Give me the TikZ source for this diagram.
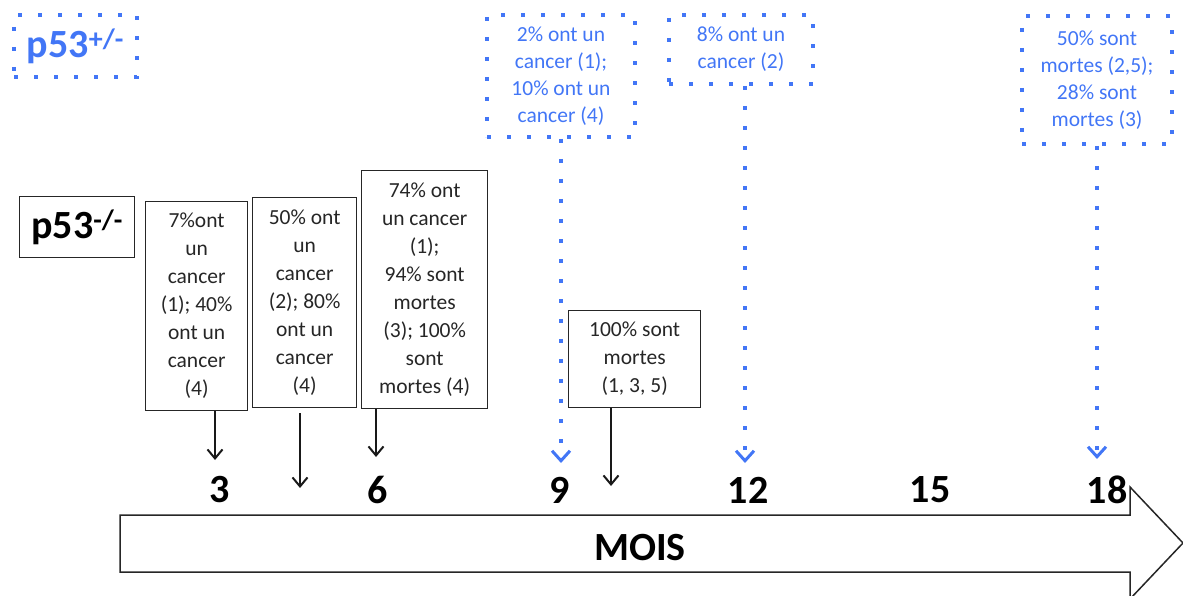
\documentclass[tikz,border=0pt]{standalone}
\usepackage{fontspec}
\setmainfont{Carlito}
\usetikzlibrary{arrows.meta}
\definecolor{pblue}{RGB}{66,118,246}
\begin{document}
\begin{tikzpicture}[x=1pt,y=-1pt,
  box/.style={draw=black!85, line width=1.3pt, align=center, inner sep=0pt, anchor=north west, font=\fontsize{21.5}{28}\selectfont, text=black!85},
  bbox/.style={draw=pblue, line width=4pt, dash pattern=on 4pt off 16pt, align=center, inner sep=0pt, anchor=north west, font=\fontsize{21.5}{27}\selectfont, text=pblue},
  blk/.style={line width=2pt, black!90, -{Straight Barb[length=9pt,width=15pt]}},
  bluarr/.style={pblue, line width=4pt, dash pattern=on 4pt off 16pt, -{Straight Barb[length=10pt,width=18pt,line width=3pt]}},
  num/.style={font=\fontsize{40}{42}\selectfont\bfseries, inner sep=0pt},
  lbl/.style={font=\fontsize{40}{42}\selectfont\bfseries, inner sep=0pt}]
\useasboundingbox (0,0) rectangle (1183,596);
\clip (0,0) rectangle (1183,596);
% legend boxes
\node[bbox, minimum width=123pt, minimum height=62pt] (plus) at (12,13) {};
\node[lbl, text=pblue] (plustxt) at (plus.center) {p53\textsuperscript{+/-}};
\node[box, minimum width=115pt, minimum height=61pt] (minus) at (19,196) {};
\node[lbl, text=black] (minustxt) at (minus.center) {p53\textsuperscript{-/-}};
% black boxes
\node[box, minimum width=102pt, minimum height=209pt] (a) at (145,201) {7\%ont\\un\\cancer\\(1); 40\%\\ont un\\cancer\\(4)};
\node[box, minimum width=104pt, minimum height=210pt] (b) at (252,197) {50\% ont\\un\\cancer\\(2); 80\%\\ont un\\cancer\\(4)};
\node[box, minimum width=126pt, minimum height=238pt] (c) at (361,170) {74\% ont\\un cancer\\(1);\\94\% sont\\mortes\\(3); 100\%\\sont\\mortes (4)};
\node[box, minimum width=132pt, minimum height=97pt] (d) at (568,310) {100\% sont\\mortes\\(1, 3, 5)};
% blue boxes
\node[bbox, minimum width=148pt, minimum height=122pt] (e) at (485,13) {2\% ont un\\cancer (1);\\10\% ont un\\cancer (4)};
\node[bbox, minimum width=144pt, minimum height=69pt] (f) at (667,13) {8\% ont un\\cancer (2)};
\node[bbox, minimum width=150pt, minimum height=128pt] (g) at (1020,14) {50\% sont\\mortes (2,5);\\28\% sont\\mortes (3)};
% x positions and arrow ends
\coordinate (xa) at (215,0);
\coordinate (xb) at (300,0);
\coordinate (xc) at (376,0);
\coordinate (xd) at (611,0);
\coordinate (xe) at (561,0);
\coordinate (xf) at (745,0);
\coordinate (xg) at (1097,0);
\coordinate (ea) at (215,460);
\coordinate (eb) at (300,488);
\coordinate (ec) at (376,457);
\coordinate (ed) at (611,486);
\coordinate (ee) at (561,463);
\coordinate (ef) at (745,463);
\coordinate (eg) at (1097,459);
\coordinate (sb) at (300,413);
\draw[blk] (a.south -| xa) -- (ea);
\draw[blk] (sb) -- (eb);
\draw[blk] (c.south -| xc) -- (ec);
\draw[blk] (d.south -| xd) -- (ed);
\draw[bluarr] (e.south -| xe) -- (ee);
\draw[bluarr] (f.south -| xf) -- (ef);
\draw[bluarr] (g.south -| xg) -- (eg);
% axis numbers
\node[num] (n3) at (220,490) {3};
\node[num] (n6) at (378,490) {6};
\node[num] (n9) at (560,490) {9};
\node[num] (n12) at (748,490) {12};
\node[num] (n15) at (930,490) {15};
\node[num] (n18) at (1107,490) {18};
% big arrow
\draw[black!85, line width=1.5pt, fill=white] (120,515) -- (1130,515) -- (1130,487) -- (1183,543) -- (1130,599) -- (1130,572) -- (120,572) -- cycle;
\node[num] (mois) at (640,548) {MOIS};
\end{tikzpicture}
\end{document}
